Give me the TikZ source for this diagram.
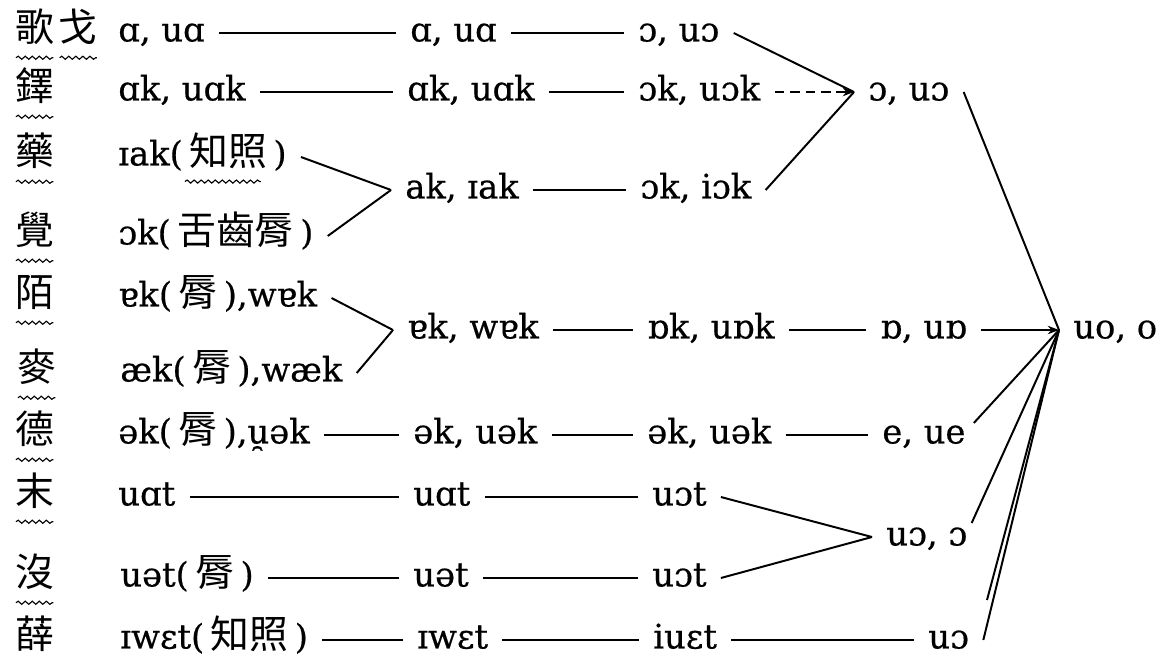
\documentclass[tikz,border=0pt]{standalone}
\usepackage{fontspec}
\setmainfont{DejaVu Serif}[FakeBold=0.5]
\newfontfamily\cjk{Noto Sans CJK TC}[Scale=1.15]
\usetikzlibrary{positioning}
\usetikzlibrary{arrows.meta}
\usetikzlibrary{decorations.pathmorphing}
\newcommand{\zh}[1]{{\cjk\,#1\,}}
\newcommand{\wavyunder}[1]{% wavy line under a heading
	\draw[wavy] ([shift={(1,9)}]#1.south west) -- ([shift={(-1,9)}]#1.south east);
}
\begin{document}
\begin{tikzpicture}[x=0.025cm, y=-0.025cm,
	form/.style={anchor=west, inner xsep=10pt, inner ysep=2pt, text height=17pt, text depth=5pt, font=\fontsize{24}{28}\selectfont},
	head/.style={anchor=west, inner sep=0pt, text height=17pt, text depth=5pt, font=\fontsize{24}{28}\selectfont\cjk},
	link/.style={line width=1.4pt},
	tip/.style={-{Stealth[length=8pt,width=6pt]}},
	wavy/.style={decorate, decoration={snake, amplitude=1.1pt, segment length=5pt}, line width=0.8pt}]

\useasboundingbox (0,0) rectangle (1160,666);

% headings
\node[head] (h1) at (15,33) {歌};
\node[head, right=3pt of h1] (h1b) {戈};
\node[head] (h2) at (15,92) {鐸};
\node[head] (h3) at (15,157) {藥};
\node[head] (h4) at (15,236) {覺};
\node[head] (h5) at (15,298) {陌};
\node[head] (h6) at (17,373) {麥};
\node[head] (h7) at (15,435) {德};
\node[head] (h8) at (15,497) {末};
\node[head] (h9) at (15,578) {沒};
\node[head] (h10) at (15,640) {薛};

\wavyunder{h1};
\wavyunder{h1b};
\wavyunder{h2};
\wavyunder{h3};
\wavyunder{h4};
\wavyunder{h5};
\wavyunder{h6};
\wavyunder{h7};
\wavyunder{h8};
\wavyunder{h9};

% forms
\node[form] (a1) at (104,33) {ɑ, uɑ};
\node[form] (b1) at (396,33) {ɑ, uɑ};
\node[form] (c1) at (624,33) {ɔ, uɔ};

\node[form] (a2) at (104,92) {ɑk, uɑk};
\node[form] (b2) at (393,92) {ɑk, uɑk};
\node[form] (c2) at (624,92) {ɔk, uɔk};
\node[form] (d2) at (854,92) {ɔ, uɔ};

\node[form] (a3) at (104,157) {ɪak(\zh{知照})};
\node[form] (b3) at (391,190) {ak, ɪak};
\node[form] (c3) at (626,190) {ɔk, iɔk};
\node[form] (a4) at (104,236) {ɔk(\zh{舌齒脣})};

\node[form] (a5) at (104,298) {ɐk(\zh{脣}),wɐk};
\node[form] (b5) at (393,330) {ɐk, wɐk};
\node[form] (c5) at (633,330) {ɒk, uɒk};
\node[form] (d5) at (866,330) {ɒ, uɒ};
\node[form] (e5) at (1059,330) {uo, o};
\node[form] (a6) at (106,373) {æk(\zh{脣}),wæk};

\node[form] (a7) at (104,435) {ək(\zh{脣}),u̯ək};
\node[form] (b7) at (399,435) {ək, uək};
\node[form] (c7) at (633,435) {ək, uək};
\node[form] (d7) at (868,435) {e, ue};

\node[form] (a8) at (104,497) {uɑt};
\node[form] (b8) at (399,497) {uɑt};
\node[form] (c8) at (638,497) {uɔt};
\node[form] (d8) at (872,537) {uɔ, ɔ};
\node[form] (a9) at (106,578) {uət(\zh{脣})};
\node[form] (b9) at (399,578) {uət};
\node[form] (c9) at (638,578) {uɔt};

\node[form] (a10) at (106,640) {ɪwɛt(\zh{知照})};
\node[form] (b10) at (403,640) {ɪwɛt};
\node[form] (c10) at (639,640) {iuɛt};
\node[form] (d10) at (914,640) {uɔ};

\coordinate (tail) at (987,600);

\draw[wavy] ([shift={(-116,6)}]a3.south east) -- ([shift={(-40,6)}]a3.south east);

% links
\draw[link] (a1) -- (b1);
\draw[link] (b1) -- (c1);
\draw[link] (c1.east) -- (d2.west);

\draw[link] (a2) -- (b2);
\draw[link] (b2) -- (c2);
\draw[link, dash pattern=on 7pt off 4pt, tip] (c2) -- (d2);

\draw[link] (a3.east) -- (b3.west);
\draw[link] (a4.east) -- (b3.west);
\draw[link] (b3) -- (c3);
\draw[link] (c3.east) -- (d2.west);

\draw[link] (a5.east) -- (b5.west);
\draw[link] (a6.east) -- (b5.west);
\draw[link] (b5) -- (c5);
\draw[link] (c5) -- (d5);
\draw[link, tip] (d5) -- (e5);

\draw[link] (a7) -- (b7);
\draw[link] (b7) -- (c7);
\draw[link] (c7) -- (d7);

\draw[link] (a8) -- (b8);
\draw[link] (b8) -- (c8);
\draw[link] (c8.east) -- (d8.west);
\draw[link] (a9) -- (b9);
\draw[link] (b9) -- (c9);
\draw[link] (c9.east) -- (d8.west);

\draw[link] (a10) -- (b10);
\draw[link] (b10) -- (c10);
\draw[link] (c10) -- (d10);

\draw[link] (d2.east) -- (e5.west);
\draw[link] ([shift={(-6,-12)}]d7.east) -- (e5.west);
\draw[link] ([shift={(-10,-14)}]d8.east) -- (e5.west);
\draw[link] (tail) -- (e5.west);
\draw[link] (d10.east) -- (e5.west);

\end{tikzpicture}
\end{document}
